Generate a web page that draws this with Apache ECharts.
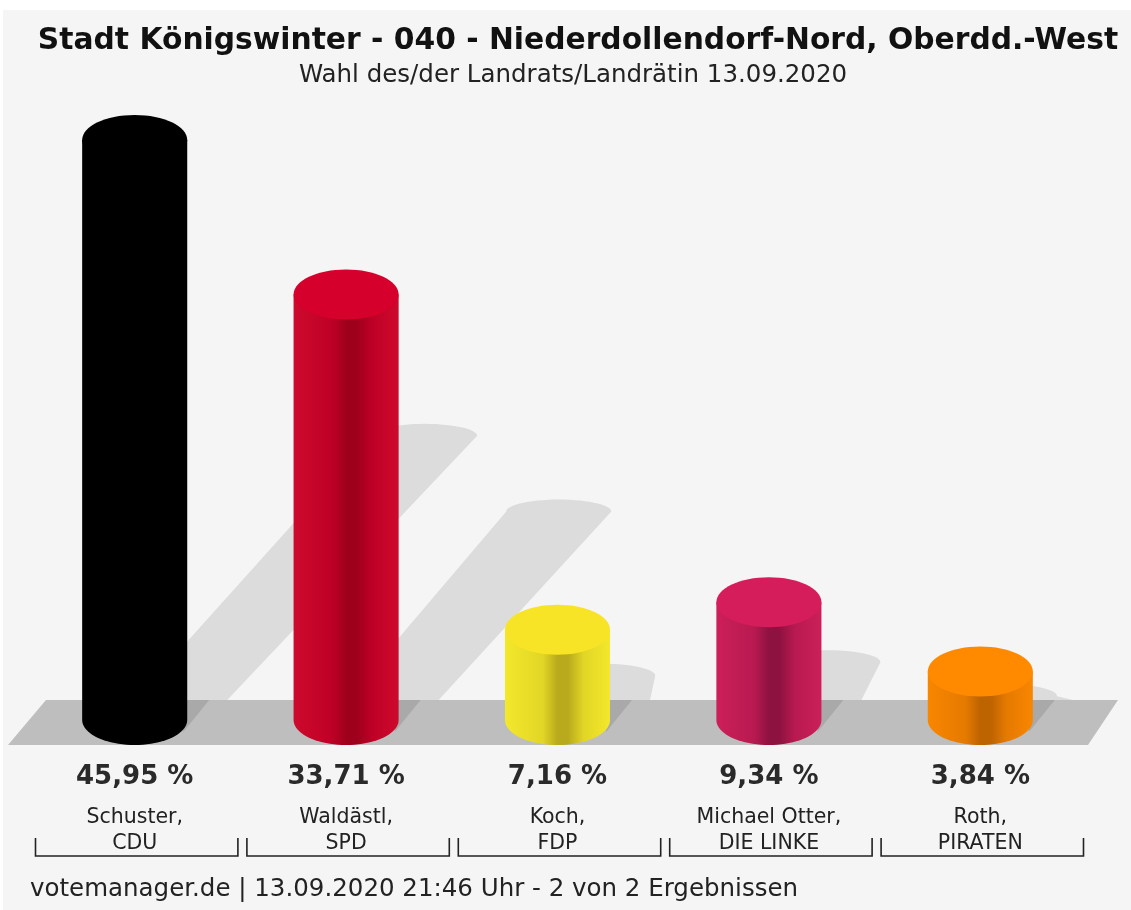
<!DOCTYPE html>
<html><head><meta charset="utf-8">
<script src="https://cdn.jsdelivr.net/npm/echarts@6/dist/echarts.min.js"></script>
<style>html,body{margin:0;padding:0;background:#fff;}#c{width:1131px;height:910px;}</style>
</head><body><div id="c"></div>
<script>
// ---- data ----
const titleText = 'Stadt Königswinter - 040 - Niederdollendorf-Nord, Oberdd.-West';
const subtitleText = 'Wahl des/der Landrats/Landrätin 13.09.2020';
const footerText = 'votemanager.de | 13.09.2020 21:46 Uhr - 2 von 2 Ergebnissen';
const candidates = ['Schuster,\nCDU', 'Waldästl,\nSPD', 'Koch,\nFDP', 'Michael Otter,\nDIE LINKE', 'Roth,\nPIRATEN'];
const shares = [45.95, 33.71, 7.16, 9.34, 3.84];
const shareLabels = ['45,95 %', '33,71 %', '7,16 %', '9,34 %', '3,84 %'];

// ---- styles ----
const barStyles = [
  {top:'#000000', c0:'#000000', c1:'#000000', dark:'#000000'},
  {top:'#d5002b', c0:'#cd0a2d', c1:'#bf0026', dark:'#9e001c'},
  {top:'#f8e426', c0:'#f3e82b', c1:'#e2d626', dark:'#b8aa1c'},
  {top:'#d51d5b', c0:'#cc1f5a', c1:'#b81a50', dark:'#8e1240'},
  {top:'#ff8a00', c0:'#f98600', c1:'#e57a00', dark:'#bd6300'}
];
const FONT = '"DejaVu Sans", sans-serif';
const BAR_RATIO = 0.497;
const RY = 25;

function bodyFill(s){
  return {type:'linear', x:0, y:0, x2:1, y2:0, colorStops:[
    {offset:0, color:s.c0},{offset:0.36, color:s.c1},{offset:0.5, color:s.dark},
    {offset:0.6, color:s.dark},{offset:0.75, color:s.c1},{offset:1, color:s.c0}]};
}

function shadowItem(params, api){
  const i = api.value(0), v = api.value(1);
  const base = api.coord([i, 0]), top = api.coord([i, v]);
  const rx = api.size([1, 0])[0] * BAR_RATIO / 2;
  const cx = base[0], h = base[1] - top[1];
  const wallY = base[1] - 20;
  const sx = cx + 0.5 * h, sy = base[1] - 0.49 * h;
  const pts = [[cx, wallY]];
  for (let k = 0; k <= 30; k++){
    const th = Math.PI - Math.PI * k / 30;
    pts.push([sx + rx * Math.cos(th), sy - 12 * Math.sin(th)]);
  }
  pts.push([cx + rx + 40, wallY]);
  return {type:'polygon', shape:{points:pts}, style:{fill:'#dcdcdc'}};
}

function barItem(params, api){
  const i = api.value(0), v = api.value(1);
  const base = api.coord([i, 0]), top = api.coord([i, v]);
  const band = api.size([1, 0])[0];
  const rx = band * BAR_RATIO / 2;
  const cx = base[0], xL = cx - rx, xR = cx + rx;
  const s = barStyles[i];
  const body = [[xL, top[1]], [xL, base[1]]];
  for (let k = 1; k < 40; k++){
    const th = Math.PI - Math.PI * k / 40;
    body.push([cx + rx * Math.cos(th), base[1] + RY * Math.sin(th)]);
  }
  body.push([xR, base[1]], [xR, top[1]]);
  const wallY = base[1] - 20;
  const bl = cx - band / 2 + 6.5, br = cx + band / 2 - 2.5;
  return {type:'group', children:[
    {type:'polygon', shape:{points:[[xR - 4, wallY], [xR + 22, wallY], [xR - 4, base[1] + 12]]}, style:{fill:'#a9a9a9'}},
    {type:'polygon', shape:{points:body}, style:{fill:bodyFill(s)}},
    {type:'ellipse', shape:{cx:cx, cy:top[1], rx:rx, ry:RY}, style:{fill:s.top}},
    {type:'text', x:cx, y:base[1] + 57.5, style:{text:shareLabels[i], font:'bold 26px ' + FONT, fill:'#2a2a2a', align:'center', verticalAlign:'middle'}},
    {type:'polyline', shape:{points:[[bl, base[1] + 118], [bl, base[1] + 136], [br, base[1] + 136], [br, base[1] + 118]]}, style:{stroke:'#222', lineWidth:1.6, fill:null}}
  ]};
}

const chart = echarts.init(document.getElementById('c'));
const data = shares.map((v, i) => [i, v]);
chart.setOption({
  animation:false,
  backgroundColor:'#ffffff',
  title:[
    {text:titleText, left:573, top:21, textAlign:'center', textStyle:{fontFamily:FONT, fontWeight:'bold', fontSize:29.75, color:'#111'}},
    {text:subtitleText, left:568, top:58, textAlign:'center', textStyle:{fontFamily:FONT, fontWeight:'normal', fontSize:24.5, color:'#222'}},
    {text:footerText, left:25, top:872, textStyle:{fontFamily:FONT, fontWeight:'normal', fontSize:24.5, color:'#222'}}
  ],
  graphic:[
    {type:'rect', z:-10, shape:{x:3, y:10, width:1128, height:900}, style:{fill:'#f5f5f5'}},
    {type:'polygon', z:1, shape:{points:[[8, 745], [46, 700], [1118, 700], [1088, 745]]}, style:{fill:'#bebebe'}}
  ],
  grid:{left:29, right:45, top:89, bottom:190},
  xAxis:{type:'category', data:candidates, boundaryGap:true,
    axisLine:{show:false}, axisTick:{show:false}, splitLine:{show:false},
    axisLabel:{interval:0, margin:84.5, fontFamily:FONT, fontSize:20.5, lineHeight:26, color:'#222'}},
  yAxis:{type:'value', min:0, max:50, show:false},
  series:[
    {type:'custom', z:0, renderItem:shadowItem, data:data, silent:true},
    {type:'custom', z:3, renderItem:barItem, data:data, silent:true}
  ]
});
</script></body></html>
